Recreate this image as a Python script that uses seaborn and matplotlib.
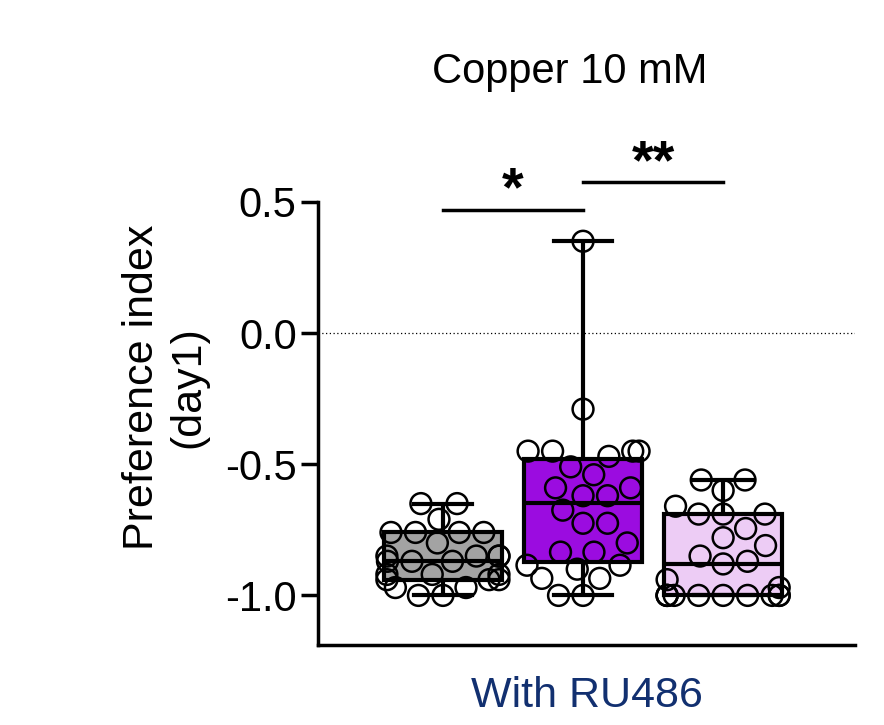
import matplotlib
matplotlib.use("Agg")
import matplotlib.pyplot as plt
import pandas as pd
import seaborn as sns

plt.rcParams["font.family"] = "Liberation Sans"

groups = ["Control", "RU486", "RU486 + rescue"]
colors = ["#a3a3a3", "#9b0ce0", "#edccf5"]
gray_vals = [-0.65, -0.65, -0.71, -0.76, -0.76, -0.76, -0.76, -0.80, -0.85, -0.85,
             -0.85, -0.85, -0.87, -0.87, -0.87, -0.92, -0.92, -0.92, -0.94, -0.94,
             -0.94, -0.97, -0.97, -1.0, -1.0]
purple_vals = [0.35, -0.29, -0.45, -0.45, -0.45, -0.45, -0.47, -0.51, -0.54, -0.59,
               -0.59, -0.62, -0.62, -0.675, -0.725, -0.725, -0.80, -0.835, -0.835,
               -0.885, -0.885, -0.90, -0.935, -0.935, -1.0, -1.0]
light_vals = [-0.56, -0.56, -0.60, -0.66, -0.69, -0.69, -0.69, -0.745, -0.78, -0.81,
              -0.85, -0.87, -0.88, -0.94, -0.97] + [-1.0] * 10

df = pd.DataFrame({
    "group": [groups[0]] * len(gray_vals) + [groups[1]] * len(purple_vals) + [groups[2]] * len(light_vals),
    "pi": gray_vals + purple_vals + light_vals,
})

fig = plt.figure(figsize=(8.84, 7.25), dpi=100)
ax = fig.add_axes([0.36, 0.11, 0.607, 0.711])

lw = 3
sns.boxplot(data=df, x="group", y="pi", hue="group", palette=colors, order=groups,
            whis=(0, 100), width=0.84, showfliers=False, legend=False, ax=ax,
            linecolor="black", linewidth=lw, saturation=1)
sns.swarmplot(data=df, x="group", y="pi", order=groups, color="white", size=15,
              edgecolor="black", linewidth=1.8, ax=ax)
for coll in ax.collections:
    coll.set_facecolor("none")

ax.axhline(0, color="black", linestyle=(0, (1, 2)), linewidth=0.9, zorder=0)
ax.set_xlim(-0.89, 2.94)
ax.set_ylim(-1.19, 0.775)
ax.set_yticks([0.5, 0.0, -0.5, -1.0])
ax.set_yticklabels(["0.5", "0.0", "-0.5", "-1.0"])
ax.set_xticks([])
for s in ["top", "right"]:
    ax.spines[s].set_visible(False)
ax.spines["left"].set_bounds(-1.19, 0.5)
ax.spines["left"].set_linewidth(2.5)
ax.spines["bottom"].set_linewidth(2.5)
ax.tick_params(axis="y", width=2.5, length=12, labelsize=30)
ax.set_ylabel("Preference index\n(day1)", fontsize=31, labelpad=12)
ax.set_xlabel("With RU486", fontsize=31, color="#123070", labelpad=22)

# significance bars
ax.plot([0, 1], [0.47, 0.47], color="black", lw=2.5, clip_on=False)
ax.text(0.5, 0.44, "*", ha="center", va="bottom", fontsize=40, fontweight="bold")
ax.plot([1, 2], [0.575, 0.575], color="black", lw=2.5, clip_on=False)
ax.text(1.5, 0.545, "**", ha="center", va="bottom", fontsize=40, fontweight="bold")

fig.text(0.645, 0.885, "Copper 10 mM", ha="center", fontsize=30)
fig.savefig("out.png", dpi=100)
